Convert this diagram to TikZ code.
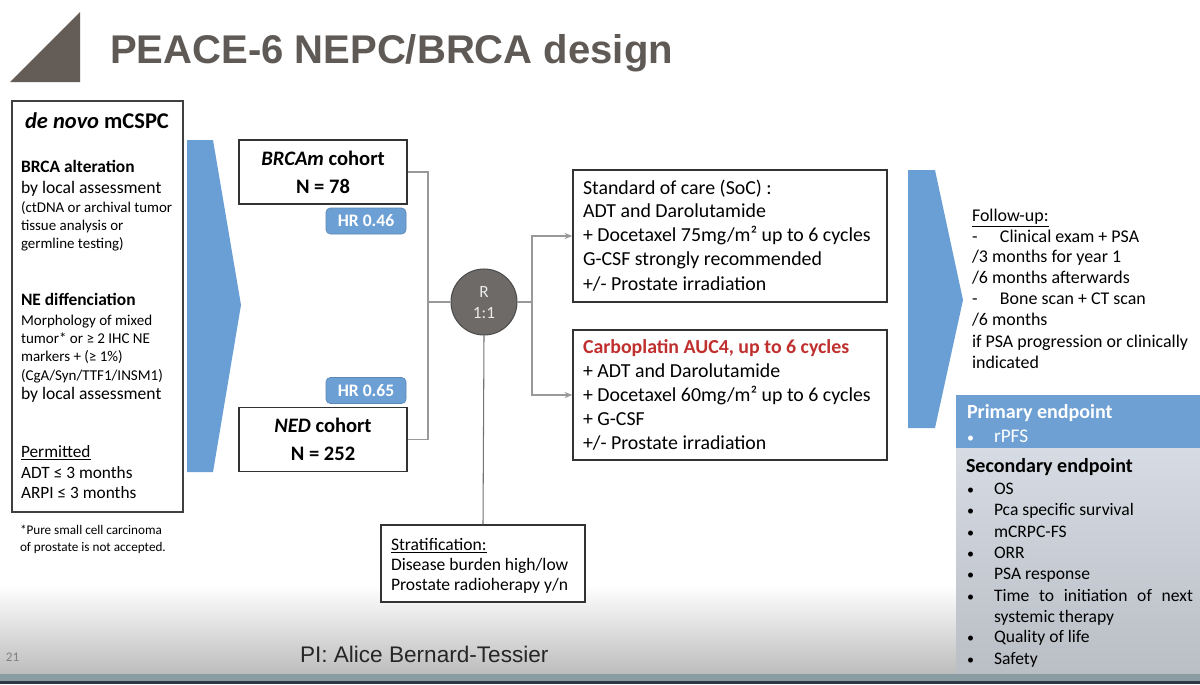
\documentclass[tikz,border=0pt]{standalone}
\usepackage{fontspec}
\setmainfont{Carlito}
\newfontfamily\arialf{Liberation Sans}
\usetikzlibrary{arrows.meta}
\newcommand\pxu{0.02cm}
\newcommand\myfs[1]{\fontsize{#1}{#1}\selectfont}
\definecolor{chevblue}{RGB}{106,159,214}
\definecolor{hrblue}{RGB}{108,160,213}
\definecolor{primblue}{RGB}{111,160,211}
\definecolor{secgray}{RGB}{214,219,228}
\definecolor{secgraydk}{RGB}{186,190,197}
\definecolor{titlegray}{RGB}{95,90,86}
\definecolor{trigray}{RGB}{100,92,87}
\definecolor{carbored}{RGB}{192,48,47}
\definecolor{circfill}{RGB}{109,106,104}
\definecolor{botband}{RGB}{138,157,162}
\definecolor{botdark}{RGB}{43,55,66}
\begin{document}
\begin{tikzpicture}[x=0.02cm,y=-0.02cm,
  ln/.style={anchor=base west, inner sep=0pt, outer sep=0pt},
  cn/.style={anchor=base, inner sep=0pt, outer sep=0pt},
  frame/.style={draw=black!80, line width=0.7pt, inner sep=0pt, fill=white},
  conn/.style={draw=black!40, line width=0.6pt},
  arr/.style={conn, -{Stealth[length=4.5pt,width=3.5pt]}},
  hrbox/.style={fill=hrblue, draw=hrblue!85!black, rounded corners=2.5pt, line width=0.4pt,
    text=white, font=\myfs{10}\bfseries, minimum width=80*\pxu, minimum height=26*\pxu, inner sep=0pt},
  cohort/.style={frame, minimum width=168*\pxu, minimum height=64*\pxu},
  armbox/.style={frame, minimum width=314*\pxu},
  armtxt/.style={ln, font=\myfs{11.3}},
  futxt/.style={ln, font=\myfs{10.2}},
  eptxt/.style={ln, font=\myfs{10}},
]
\useasboundingbox (0,0) rectangle (1200,684);
\fill[white] (0,0) rectangle (1200,684);
% bottom gradient
\shade[top color=white, bottom color=black!26] (0,585) rectangle (1200,674);
\fill[botband] (0,674) rectangle (1200,681);
\fill[botdark] (0,681) rectangle (1200,684);

% title
\fill[trigray] (10,82) -- (80,12) -- (80,82) -- cycle;
\node[ln, font=\arialf\bfseries\myfs{22.8}, text=titlegray] (title) at (110,63) {PEACE-6 NEPC/BRCA design};

% left box
\node[frame, draw=black!75, minimum width=171*\pxu, minimum height=411*\pxu] (left) at (97.5,306.5) {};
\node[cn, font=\myfs{12.8}\bfseries] (l0) at (97,128) {\itshape de novo\upshape{} mCSPC};
\node[ln, font=\myfs{9.9}\bfseries] (l1) at (21,172) {BRCA alteration};
\node[ln, font=\myfs{10}] (l2) at (21,193) {by local assessment};
\node[ln, font=\myfs{8.5}] (l3) at (21,212) {(ctDNA or archival tumor};
\node[ln, font=\myfs{8.5}] (l4) at (21,230) {tissue analysis or};
\node[ln, font=\myfs{8.5}] (l5) at (21,248) {germline testing)};
\node[ln, font=\myfs{9.9}\bfseries] (l6) at (21,305) {NE diffenciation};
\node[ln, font=\myfs{8.55}] (l7) at (21,325) {Morphology of mixed};
\node[ln, font=\myfs{8.55}] (l8) at (21,343) {tumor* or ≥ 2 IHC NE};
\node[ln, font=\myfs{8.55}] (l9) at (21,361) {markers + (≥ 1\%)};
\node[ln, font=\myfs{8.55}] (l10) at (21,380) {(CgA/Syn/TTF1/INSM1)};
\node[ln, font=\myfs{10}] (l11) at (21,399) {by local assessment};
\node[ln, font=\myfs{9.85}] (l12) at (21,457) {\underline{Permitted}};
\node[ln, font=\myfs{9.85}] (l13) at (21,478) {ADT ≤ 3 months};
\node[ln, font=\myfs{9.85}] (l14) at (21,498) {ARPI ≤ 3 months};
\node[ln, font=\myfs{7.5}] (fn1) at (20,534) {*Pure small cell carcinoma};
\node[ln, font=\myfs{7.5}] (fn2) at (20,551) {of prostate is not accepted.};

% chevrons
\fill[chevblue] (187,140) -- (213,140) -- (241,305) -- (213,472) -- (187,472) -- cycle;
\fill[chevblue] (908,170) -- (935,170) -- (963,300) -- (935,428) -- (908,428) -- cycle;

% cohorts
\node[cohort] (brca) at (323,172) {};
\node[cn, font=\myfs{11.7}\bfseries] (brcat) at (323,165) {\itshape BRCAm\upshape{} cohort};
\node[cn, font=\myfs{11.7}\bfseries] (brcan) at (323,193) {N = 78};
\node[cohort] (ned) at (323,439.5) {};
\node[cn, font=\myfs{11.7}\bfseries] (nedt) at (323,432) {\itshape NED\upshape{} cohort};
\node[cn, font=\myfs{11.7}\bfseries] (nedn) at (323,460) {N = 252};
\node[hrbox] (hr1) at (366,221) {HR 0.46};
\node[hrbox] (hr2) at (366,390.5) {HR 0.65};

% randomisation
\node[circle, fill=circfill, draw=black!70, line width=0.6pt, minimum size=66*\pxu, inner sep=0pt] (R) at (484,302) {};
\node[cn, font=\myfs{9.8}, text=black!8] (Rt) at (484,297) {R};
\node[cn, font=\myfs{9.8}, text=black!8] (Rr) at (484,318) {1:1};
\coordinate (j1) at (428,302);
\coordinate (j2) at (532,302);

% arms
\node[armbox, minimum height=132*\pxu] (soc) at (730,236) {};
\node[armtxt] (s1) at (583,194) {Standard of care (SoC) :};
\node[armtxt] (s2) at (583,217) {ADT and Darolutamide};
\node[armtxt] (s3) at (583,241) {+ Docetaxel 75mg/m² up to 6 cycles};
\node[armtxt] (s4) at (583,265) {G-CSF strongly recommended};
\node[armtxt] (s5) at (583,290) {+/- Prostate irradiation};
\node[armbox, minimum height=130*\pxu] (carbo) at (730,395) {};
\node[armtxt, font=\myfs{11.3}\bfseries, text=carbored] (c1) at (583,353) {Carboplatin AUC4, up to 6 cycles};
\node[armtxt] (c2) at (583,377) {+ ADT and Darolutamide};
\node[armtxt] (c3) at (583,401) {+ Docetaxel 60mg/m² up to 6 cycles};
\node[armtxt] (c4) at (583,425) {+ G-CSF};
\node[armtxt] (c5) at (583,449) {+/- Prostate irradiation};

% stratification
\node[frame, minimum width=204*\pxu, minimum height=77*\pxu] (strat) at (483,563.5) {};
\node[ln, font=\myfs{10}] (t1) at (391,550) {\underline{Stratification:}};
\node[ln, font=\myfs{10}] (t2) at (391,570) {Disease burden high/low};
\node[ln, font=\myfs{10}] (t3) at (391,590) {Prostate radioherapy y/n};

% connectors
\draw[conn] (brca.east) -| (j1);
\draw[conn] (ned.east) -| (j1);
\draw[conn] (j1) -- (R.west);
\draw[conn] (R.east) -- (j2);
\draw[arr] (j2) |- (soc.west);
\draw[arr] (j2) |- (carbo.west);
\draw[draw=black!55, line width=0.6pt] (R.south) -- (strat.north);

% follow-up
\node[futxt] (f1) at (972,221) {\underline{Follow-up:}};
\node[futxt] (f2) at (972,242) {\makebox[0.56cm][l]{-}Clinical exam + PSA};
\node[futxt] (f3) at (972,262) {/3 months for year 1};
\node[futxt] (f4) at (972,283) {/6 months afterwards};
\node[futxt] (f5) at (972,304) {\makebox[0.56cm][l]{-}Bone scan + CT scan};
\node[futxt] (f6) at (972,325) {/6 months};
\node[futxt] (f7) at (972,347) {if PSA progression or clinically};
\node[futxt] (f8) at (972,368) {indicated};

% endpoints
\fill[primblue] (956,395) rectangle (1200,448);
\shade[top color=secgray, bottom color=secgraydk] (956,448) rectangle (1200,673);
\node[ln, font=\myfs{11.4}\bfseries, text=white] (p1) at (967,418) {Primary endpoint};
\node[ln, font=\myfs{11}, text=white] (p2) at (967,442) {\makebox[0.54cm][l]{\myfs{8}•}rPFS};
\node[ln, font=\myfs{11.4}\bfseries] (e0) at (966,472) {Secondary endpoint};
\node[eptxt] (e1) at (967,494) {\makebox[0.54cm][l]{\myfs{8}•}OS};
\node[eptxt] (e2) at (967,515) {\makebox[0.54cm][l]{\myfs{8}•}Pca specific survival};
\node[eptxt] (e3) at (967,537) {\makebox[0.54cm][l]{\myfs{8}•}mCRPC-FS};
\node[eptxt] (e4) at (967,558) {\makebox[0.54cm][l]{\myfs{8}•}ORR};
\node[eptxt] (e5) at (967,579) {\makebox[0.54cm][l]{\myfs{8}•}PSA response};
\node[eptxt] (e6) at (967,601) {\makebox[0.54cm][l]{\myfs{8}•}\hbox to 3.98cm{Time\hfil to\hfil initiation\hfil of\hfil next}};
\node[eptxt] (e7) at (994,622) {systemic therapy};
\node[eptxt] (e8) at (967,642) {\makebox[0.54cm][l]{\myfs{8}•}Quality of life};
\node[eptxt] (e9) at (967,664) {\makebox[0.54cm][l]{\myfs{8}•}Safety};

% footer
\node[ln, font=\myfs{7.5}, text=black!50] (pg) at (6,661) {21};
\node[ln, font=\arialf\myfs{12.85}, text=black!85] (pi) at (300,662) {PI: Alice Bernard-Tessier};
\end{tikzpicture}
\end{document}
